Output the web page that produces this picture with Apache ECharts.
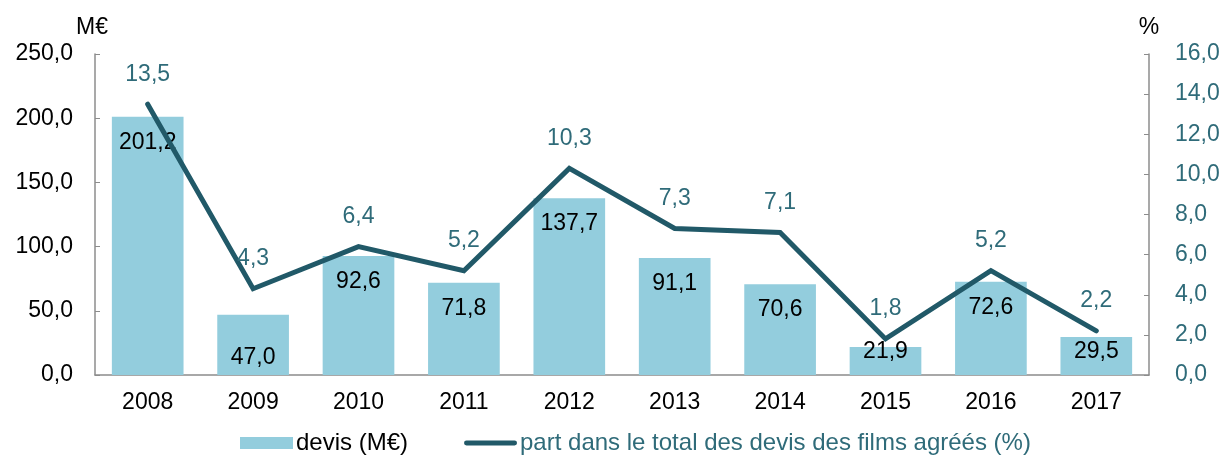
<!DOCTYPE html>
<html>
<head>
<meta charset="utf-8">
<script src="https://cdn.jsdelivr.net/npm/echarts@6/dist/echarts.min.js"></script>
<style>html,body{margin:0;padding:0;background:#fff}#c{width:1224px;height:455px}</style>
</head>
<body>
<div id="c"></div>
<script>
const years = ['2008','2009','2010','2011','2012','2013','2014','2015','2016','2017'];
const devis = [201.2, 47.0, 92.6, 71.8, 137.7, 91.1, 70.6, 21.9, 72.6, 29.5];
const part = [13.5, 4.3, 6.4, 5.2, 10.3, 7.3, 7.1, 1.8, 5.2, 2.2];
const leftTicks = [0, 50, 100, 150, 200, 250];
const rightTicks = [0, 2, 4, 6, 8, 10, 12, 14, 16];
const barName = 'devis (M€)';
const lineName = 'part dans le total des devis des films agréés (%)';

const fmt = v => Number(v).toFixed(1).replace('.', ',');
const FONT = 'Liberation Sans, Arial, sans-serif';
const FS = 23;
const BAR = '#93CDDD', LINE = '#215968', TEAL = '#2F6B79', AXIS = '#8C8C8C';

// label placement tweaks for short bars (low values)
const bottomLabel = {'2009': 6, '2015': 12, '2017': 12};
const barData = devis.map((v, i) => {
  const d = bottomLabel[years[i]];
  return d === undefined ? v : {value: v, label: {position: 'insideBottom', distance: d}};
});

const chart = echarts.init(document.getElementById('c'), null, {renderer: 'canvas'});
chart.setOption({
  animation: false,
  textStyle: {fontFamily: FONT},
  grid: {left: 95, right: 75, top: 54, bottom: 80, containLabel: false},
  legend: {
    left: 235, top: 426,
    itemWidth: 53, itemHeight: 12, itemGap: 56,
    symbolKeepAspect: true,
    textStyle: {fontFamily: FONT, fontSize: 24, color: '#000', padding: [0, 0, 0, -2]},
    data: [
      {name: barName, icon: 'rect', textStyle: {color: '#000'}},
      {name: lineName, icon: 'path://M2.5,0 L51.5,0 A2.5,2.5 0 0 1 51.5,5 L2.5,5 A2.5,2.5 0 0 1 2.5,0 Z',
        itemStyle: {color: LINE}, textStyle: {color: TEAL}}
    ]
  },
  xAxis: {
    type: 'category', data: years,
    axisLine: {lineStyle: {color: AXIS, width: 1.5}},
    axisTick: {inside: true, length: 5, lineStyle: {color: AXIS}},
    axisLabel: {color: '#000', fontSize: FS, fontFamily: FONT, margin: 16}
  },
  yAxis: [{
    type: 'value', min: leftTicks[0], max: leftTicks[leftTicks.length - 1], interval: 50,
    name: 'M€', nameLocation: 'end', nameGap: 15,
    nameTextStyle: {color: '#000', fontSize: FS, fontFamily: FONT, align: 'center', padding: [0, 6, 0, 0]},
    axisLine: {show: true, lineStyle: {color: AXIS, width: 1.5}},
    axisTick: {show: true, inside: true, length: 5, lineStyle: {color: AXIS}},
    splitLine: {show: false},
    axisLabel: {color: '#000', fontSize: FS, fontFamily: FONT, margin: 22, formatter: fmt}
  }, {
    type: 'value', min: rightTicks[0], max: rightTicks[rightTicks.length - 1], interval: 2,
    name: '%', nameLocation: 'end', nameGap: 15,
    nameTextStyle: {color: '#000', fontSize: FS, fontFamily: FONT, align: 'center'},
    axisLine: {show: true, lineStyle: {color: AXIS, width: 1.5}},
    axisTick: {show: true, inside: true, length: 5, lineStyle: {color: AXIS}},
    splitLine: {show: false},
    axisLabel: {color: TEAL, fontSize: FS, fontFamily: FONT, margin: 26, formatter: fmt}
  }],
  series: [{
    name: barName, type: 'bar', yAxisIndex: 0, data: barData,
    barCategoryGap: '32%',
    itemStyle: {color: BAR},
    label: {show: true, position: 'insideTop', distance: 14, color: '#000', fontSize: FS, fontFamily: FONT,
      formatter: p => fmt(p.value)}
  }, {
    name: lineName, type: 'line', yAxisIndex: 1, data: part,
    symbol: 'circle', symbolSize: 1, showSymbol: true,
    lineStyle: {color: LINE, width: 5, cap: 'round', join: 'miter'},
    itemStyle: {color: LINE},
    label: {show: true, position: 'top', distance: 18, color: TEAL, fontSize: FS, fontFamily: FONT,
      formatter: p => fmt(p.value)},
    labelLayout: {hideOverlap: false},
    z: 3
  }]
});
</script>
</body>
</html>
